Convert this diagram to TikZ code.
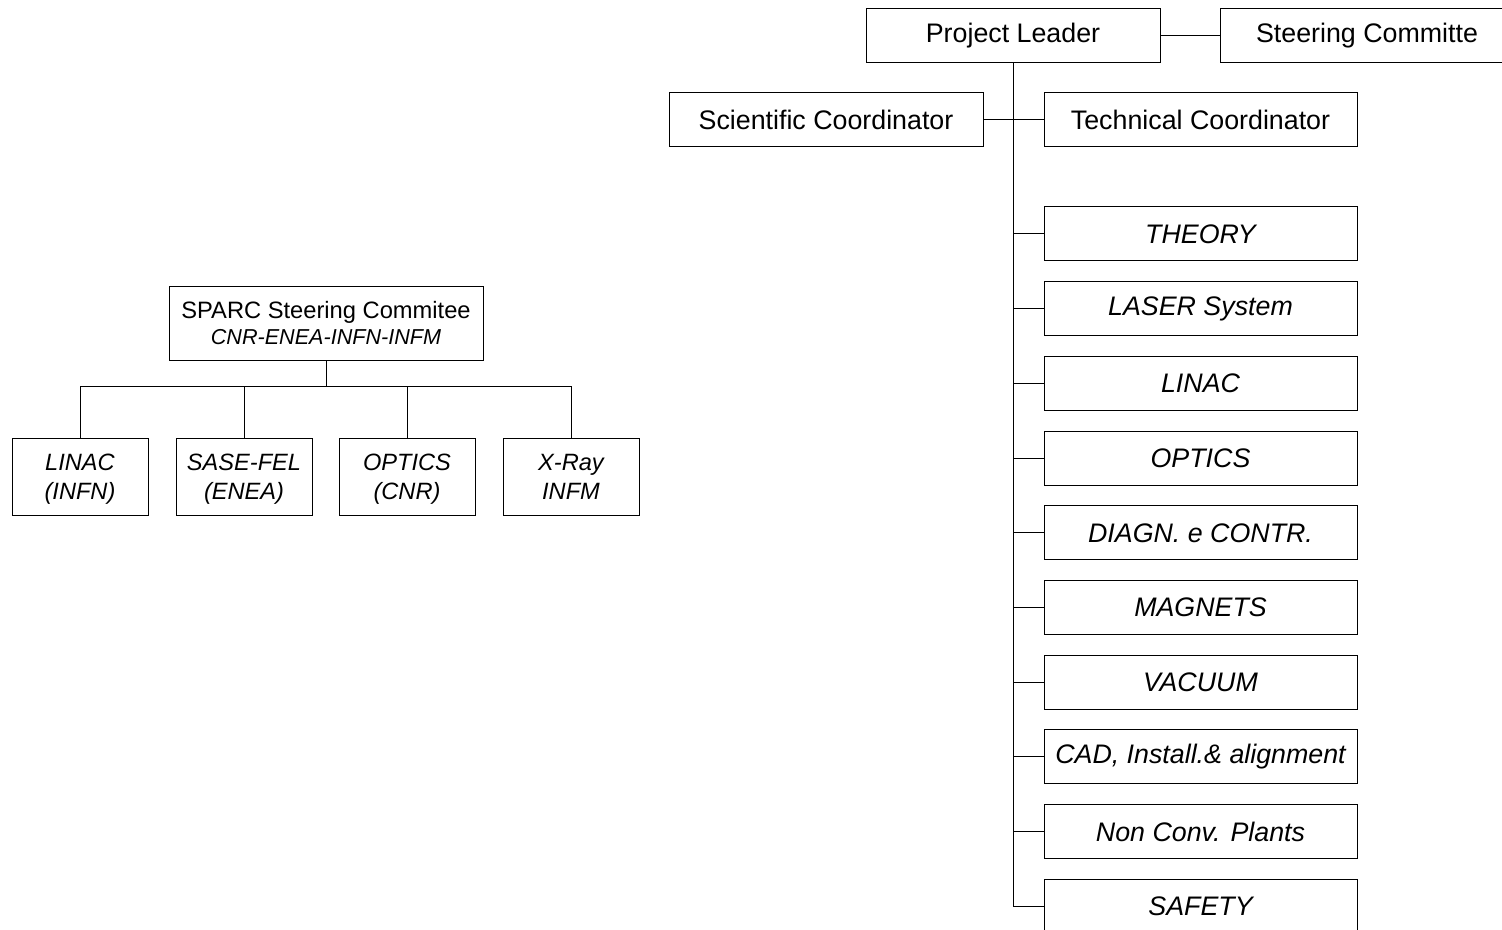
\documentclass[tikz,border=0pt]{standalone}
\usepackage{fontspec}
\setmainfont{Liberation Sans}
\newcommand{\kidtop}{\rule{0pt}{11.5pt}}
\newcommand{\kidbot}{\rule[-2.6pt]{0pt}{1pt}}
\begin{document}
\begin{tikzpicture}[x=0.5pt,y=-0.5pt, line width=0.5pt,
  box/.style={draw, inner sep=0pt, align=center, font=\fontsize{13.4}{16}\selectfont},
  bigbox/.style={box, minimum width=147pt, minimum height=27pt},
  coordbox/.style={box, minimum width=157pt, minimum height=27pt},
  subbox/.style={box, minimum width=156.5pt, minimum height=27pt, font=\fontsize{13.4}{16}\selectfont\itshape},
  kidbox/.style={box, minimum width=68pt, minimum height=38.5pt, font=\fontsize{11.8}{14.5}\selectfont\itshape},
  wire/.style={draw}]
\clip (0,0) rectangle (1502,930);
% right hierarchy
\node[bigbox] (pl) at (1013,36) {Project Leader};
\node[bigbox] (sc) at (1367,36) {Steering Committe};
\node[coordbox] (sci) at (826,120) {Scientific Coordinator};
\node[box, minimum width=156.5pt, minimum height=27pt] (tech) at (1200.5,120) {Technical Coordinator};
\foreach \n/\t [count=\i from 0] in {th/THEORY, ls/LASER System, li/LINAC, op/OPTICS, dg/DIAGN. e CONTR., mg/MAGNETS, vc/VACUUM, ca/{CAD, Install.\& alignment}, nc/Non Conv. Plants, sf/SAFETY}
  \node[subbox] (\n) at (1200.5,234+74.7*\i) {\t};
\draw[wire] (pl.east) -- (sc.west);
\draw[wire] (sci.east) -- (tech.west);
\draw[wire] (pl.south) |- (sf.west);
\foreach \n in {th,ls,li,op,dg,mg,vc,ca,nc}
  \draw[wire] (pl.south |- \n.west) -- (\n.west);
% left hierarchy
\node[box, minimum width=157pt, minimum height=36.5pt, font=\fontsize{11.85}{13}\selectfont] (sp) at (326,323.5)
  {SPARC Steering Commitee\\{\fontsize{10.8}{13}\selectfont\itshape CNR-ENEA-INFN-INFM}};
\node[kidbox] (k1) at (80,476.5) {\kidtop LINAC\\(INFN)\kidbot};
\node[kidbox] (k2) at (244,476.5) {\kidtop SASE-FEL\\(ENEA)\kidbot};
\node[kidbox] (k3) at (407,476.5) {\kidtop OPTICS\\(CNR)\kidbot};
\node[kidbox] (k4) at (571,476.5) {\kidtop X-Ray\\INFM\kidbot};
\draw[wire] (sp.south) -- ++(0,26) coordinate (bus);
\draw[wire] (k1.north) |- (bus) -| (k4.north);
\draw[wire] (k2.north) -- (k2.north |- bus);
\draw[wire] (k3.north) -- (k3.north |- bus);
\end{tikzpicture}
\end{document}
